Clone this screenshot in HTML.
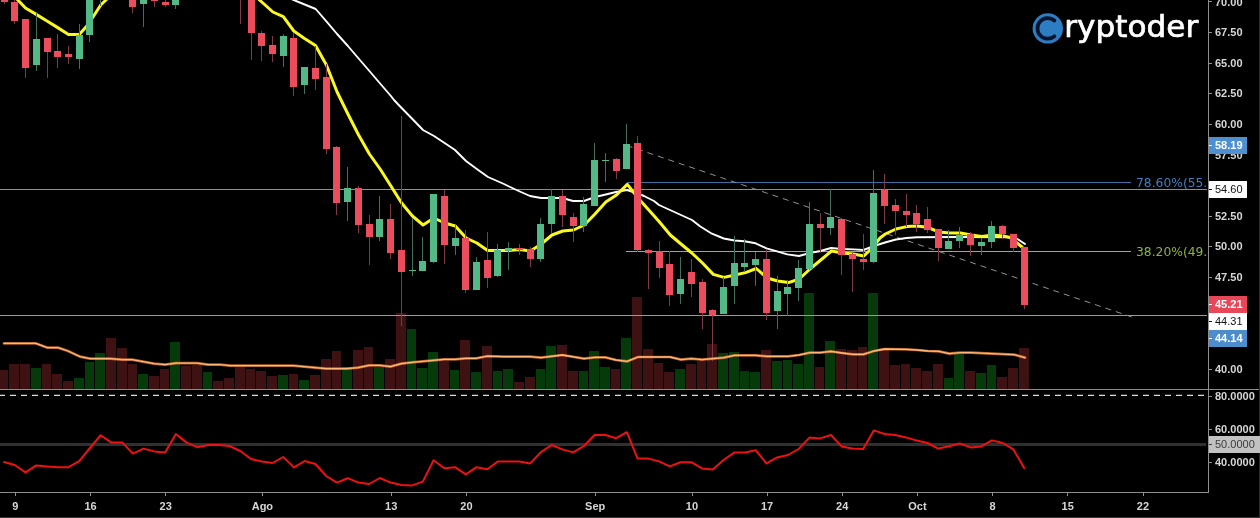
<!DOCTYPE html>
<html lang="es"><head><meta charset="utf-8"><title>Cryptoder chart</title>
<style>html,body{margin:0;padding:0;background:#000;overflow:hidden}svg{display:block}text{font-family:"Liberation Sans",Arial,sans-serif}.ax{font-size:11px;font-weight:bold;fill:#d6d6d6}.lg{font-family:"DejaVu Sans","Liberation Sans",sans-serif;font-size:31px;fill:#fff}.fib{font-family:"DejaVu Sans","Liberation Sans",sans-serif;font-size:12.3px}</style></head><body>
<svg width="1260" height="518" viewBox="0 0 1260 518">
<rect width="1260" height="518" fill="#000"/>
<defs><filter id="nf" x="0" y="0" width="1260" height="518" filterUnits="userSpaceOnUse" color-interpolation-filters="sRGB"><feOffset dx="0" dy="0"/></filter><clipPath id="plot"><rect x="0" y="0" width="1208" height="389"/></clipPath><clipPath id="lbl"><rect x="1130" y="170" width="78" height="100"/></clipPath></defs>
<g shape-rendering="crispEdges">
</g>
<g shape-rendering="crispEdges">
<rect x="0" y="370" width="8" height="19" fill="#3e1113"/>
<rect x="9" y="364" width="10" height="25" fill="#3e1113"/>
<rect x="20" y="364" width="10" height="25" fill="#3e1113"/>
<rect x="31" y="368" width="10" height="21" fill="#063a0b"/>
<rect x="42" y="364" width="9" height="25" fill="#3e1113"/>
<rect x="52" y="374" width="10" height="15" fill="#3e1113"/>
<rect x="63" y="381" width="10" height="8" fill="#3e1113"/>
<rect x="74" y="378" width="10" height="11" fill="#063a0b"/>
<rect x="85" y="362" width="9" height="27" fill="#063a0b"/>
<rect x="95" y="353" width="10" height="36" fill="#063a0b"/>
<rect x="106" y="338" width="10" height="51" fill="#3e1113"/>
<rect x="117" y="348" width="10" height="41" fill="#3e1113"/>
<rect x="128" y="364" width="9" height="25" fill="#3e1113"/>
<rect x="138" y="374" width="10" height="15" fill="#063a0b"/>
<rect x="149" y="376" width="10" height="13" fill="#3e1113"/>
<rect x="160" y="369" width="9" height="20" fill="#3e1113"/>
<rect x="170" y="342" width="10" height="47" fill="#063a0b"/>
<rect x="181" y="366" width="10" height="23" fill="#3e1113"/>
<rect x="192" y="365" width="10" height="24" fill="#3e1113"/>
<rect x="203" y="372" width="9" height="17" fill="#063a0b"/>
<rect x="213" y="381" width="10" height="8" fill="#3e1113"/>
<rect x="224" y="378" width="10" height="11" fill="#3e1113"/>
<rect x="235" y="367" width="10" height="22" fill="#3e1113"/>
<rect x="246" y="369" width="9" height="20" fill="#3e1113"/>
<rect x="256" y="371" width="10" height="18" fill="#3e1113"/>
<rect x="267" y="376" width="10" height="13" fill="#3e1113"/>
<rect x="278" y="375" width="10" height="14" fill="#063a0b"/>
<rect x="289" y="374" width="9" height="15" fill="#3e1113"/>
<rect x="299" y="380" width="10" height="9" fill="#063a0b"/>
<rect x="310" y="375" width="10" height="14" fill="#3e1113"/>
<rect x="321" y="359" width="10" height="30" fill="#3e1113"/>
<rect x="332" y="351" width="9" height="38" fill="#3e1113"/>
<rect x="342" y="367" width="10" height="22" fill="#063a0b"/>
<rect x="353" y="350" width="10" height="39" fill="#3e1113"/>
<rect x="364" y="347" width="9" height="42" fill="#3e1113"/>
<rect x="374" y="367" width="10" height="22" fill="#063a0b"/>
<rect x="385" y="359" width="10" height="30" fill="#3e1113"/>
<rect x="396" y="313" width="10" height="76" fill="#3e1113"/>
<rect x="407" y="329" width="9" height="60" fill="#063a0b"/>
<rect x="417" y="368" width="10" height="21" fill="#063a0b"/>
<rect x="428" y="352" width="10" height="37" fill="#063a0b"/>
<rect x="439" y="361" width="10" height="28" fill="#3e1113"/>
<rect x="450" y="370" width="9" height="19" fill="#063a0b"/>
<rect x="460" y="340" width="10" height="49" fill="#3e1113"/>
<rect x="471" y="372" width="10" height="17" fill="#063a0b"/>
<rect x="482" y="346" width="10" height="43" fill="#3e1113"/>
<rect x="493" y="371" width="9" height="18" fill="#063a0b"/>
<rect x="503" y="369" width="10" height="20" fill="#063a0b"/>
<rect x="514" y="382" width="10" height="7" fill="#3e1113"/>
<rect x="525" y="377" width="10" height="12" fill="#3e1113"/>
<rect x="536" y="369" width="9" height="20" fill="#063a0b"/>
<rect x="546" y="346" width="10" height="43" fill="#063a0b"/>
<rect x="557" y="345" width="10" height="44" fill="#3e1113"/>
<rect x="568" y="371" width="10" height="18" fill="#3e1113"/>
<rect x="579" y="371" width="9" height="18" fill="#063a0b"/>
<rect x="589" y="351" width="10" height="38" fill="#063a0b"/>
<rect x="600" y="367" width="10" height="22" fill="#063a0b"/>
<rect x="611" y="369" width="9" height="20" fill="#3e1113"/>
<rect x="621" y="338" width="10" height="51" fill="#063a0b"/>
<rect x="632" y="297" width="10" height="92" fill="#3e1113"/>
<rect x="643" y="349" width="10" height="40" fill="#3e1113"/>
<rect x="654" y="363" width="9" height="26" fill="#3e1113"/>
<rect x="664" y="372" width="10" height="17" fill="#3e1113"/>
<rect x="675" y="369" width="10" height="20" fill="#063a0b"/>
<rect x="686" y="364" width="10" height="25" fill="#3e1113"/>
<rect x="697" y="361" width="9" height="28" fill="#3e1113"/>
<rect x="707" y="344" width="10" height="45" fill="#3e1113"/>
<rect x="718" y="353" width="10" height="36" fill="#063a0b"/>
<rect x="729" y="352" width="10" height="37" fill="#063a0b"/>
<rect x="740" y="371" width="9" height="18" fill="#063a0b"/>
<rect x="750" y="372" width="10" height="17" fill="#063a0b"/>
<rect x="761" y="350" width="10" height="39" fill="#3e1113"/>
<rect x="772" y="361" width="10" height="28" fill="#063a0b"/>
<rect x="783" y="360" width="9" height="29" fill="#063a0b"/>
<rect x="793" y="364" width="10" height="25" fill="#063a0b"/>
<rect x="804" y="293" width="10" height="96" fill="#063a0b"/>
<rect x="815" y="367" width="9" height="22" fill="#3e1113"/>
<rect x="825" y="341" width="10" height="48" fill="#063a0b"/>
<rect x="836" y="349" width="10" height="40" fill="#3e1113"/>
<rect x="847" y="350" width="10" height="39" fill="#3e1113"/>
<rect x="858" y="347" width="9" height="42" fill="#3e1113"/>
<rect x="868" y="293" width="10" height="96" fill="#063a0b"/>
<rect x="879" y="348" width="10" height="41" fill="#3e1113"/>
<rect x="890" y="365" width="10" height="24" fill="#3e1113"/>
<rect x="901" y="364" width="9" height="25" fill="#3e1113"/>
<rect x="911" y="368" width="10" height="21" fill="#3e1113"/>
<rect x="922" y="371" width="10" height="18" fill="#3e1113"/>
<rect x="933" y="364" width="10" height="25" fill="#3e1113"/>
<rect x="944" y="378" width="9" height="11" fill="#063a0b"/>
<rect x="954" y="354" width="10" height="35" fill="#063a0b"/>
<rect x="965" y="371" width="10" height="18" fill="#3e1113"/>
<rect x="976" y="373" width="10" height="16" fill="#063a0b"/>
<rect x="987" y="365" width="9" height="24" fill="#063a0b"/>
<rect x="997" y="377" width="10" height="12" fill="#3e1113"/>
<rect x="1008" y="368" width="10" height="21" fill="#3e1113"/>
<rect x="1019" y="348" width="10" height="41" fill="#3e1113"/>
</g>
<g shape-rendering="crispEdges">
<rect x="0" y="189" width="1207" height="1" fill="#8e8e8e"/>
<rect x="0" y="315" width="1207" height="1" fill="#9a9a9a"/>
<rect x="627" y="182" width="504" height="1" fill="#3b6fa6"/>
<rect x="626" y="251" width="505" height="1" fill="#94b84a"/>
</g>
<line x1="627" y1="145.6" x2="1131.5" y2="316.9" stroke="#929292" stroke-width="1" stroke-dasharray="6 4.99" stroke-dashoffset="0.3"/>
<g fill="none" stroke-linejoin="round" stroke-linecap="round" clip-path="url(#plot)">
<polyline points="283.0,-4.5 293.8,0.0 315.7,9.0 326.4,21.4 337.1,34.0 347.9,46.0 358.6,58.5 369.4,71.0 380.1,83.5 390.9,96.0 394.0,100.0 401.6,108.0 412.4,119.0 423.0,130.0 434.0,136.0 444.6,143.0 455.0,150.0 466.0,161.0 476.8,169.0 488.0,177.0 498.3,181.5 504.0,184.0 509.0,186.5 519.8,191.5 530.0,196.0 541.0,198.0 552.0,198.0 562.4,198.0 573.0,201.0 584.0,201.0 595.0,197.0 605.8,194.5 616.0,192.0 627.0,190.0 638.0,193.5 644.0,196.0 654.0,201.0 659.0,205.0 670.0,210.0 681.0,215.0 692.0,220.0 700.0,226.2 711.9,233.7 723.8,238.5 734.5,240.5 744.4,241.3 755.6,243.3 766.5,248.4 776.2,251.2 787.3,254.4 799.0,256.0 810.0,253.0 820.4,251.0 831.0,248.0 842.0,249.0 853.0,249.4 863.4,250.0 874.0,246.0 885.0,242.5 896.0,239.5 906.4,238.0 917.0,237.2 960.0,237.0 1008.0,237.4 1016.0,238.0 1025.0,244.0" stroke="#ffffff" stroke-width="1.9"/>
<polyline points="3.0,-14.0 14.0,-4.0 25.5,8.0 36.2,14.4 47.0,21.0 57.7,27.6 68.5,34.4 79.2,34.4 86.0,27.0 93.0,17.0 100.7,5.0 106.0,0.0 111.5,-8.0" stroke="#fbf81e" stroke-width="3"/>
<polyline points="254.0,-6.0 259.5,0.0 272.9,12.0 283.3,16.6 293.8,31.0 304.5,38.5 315.5,45.5 326.4,65.0 337.1,92.0 347.9,114.0 358.6,135.0 369.4,154.0 380.1,169.0 390.9,186.0 401.6,203.0 412.4,216.0 423.1,225.0 433.8,218.0 444.6,223.0 455.3,226.0 466.1,238.0 476.8,243.0 487.6,250.4 498.3,250.4 509.0,250.6 519.8,249.4 530.5,251.0 541.3,244.0 552.0,235.0 562.8,231.0 573.5,230.0 584.3,225.0 595.0,214.0 605.8,202.0 616.5,195.0 627.3,184.4 638.0,198.0 648.8,210.0 659.5,222.0 670.3,235.0 681.0,244.0 691.8,253.0 702.5,263.0 713.3,274.4 724.0,277.4 734.8,275.0 745.5,272.6 756.3,268.5 767.0,278.0 777.8,281.0 788.5,282.6 799.3,279.0 810.0,269.0 820.8,260.0 831.5,251.0 842.3,253.0 853.0,254.0 863.8,256.0 869.0,251.0 874.5,245.0 880.0,238.0 885.3,234.0 896.0,229.0 906.8,226.6 917.5,226.0 928.3,227.6 939.0,232.0 949.8,233.0 960.5,233.0 971.3,235.0 982.0,236.4 992.8,235.0 1003.5,236.0 1010.0,237.5 1022.0,247.0" stroke="#fbf81e" stroke-width="3"/>
</g>
<g clip-path="url(#plot)" shape-rendering="crispEdges">
<rect x="4" y="-12.0" width="1" height="15.6" fill="#7c3a46"/>
<rect x="1" y="-10.0" width="7" height="11.6" fill="#eb4d5c"/>
<rect x="14" y="-5.0" width="1" height="28.6" fill="#7c3a46"/>
<rect x="11" y="2.0" width="7" height="18.6" fill="#eb4d5c"/>
<rect x="25" y="19.2" width="1" height="58.4" fill="#7c3a46"/>
<rect x="22" y="19.2" width="7" height="48.4" fill="#eb4d5c"/>
<rect x="36" y="12.4" width="1" height="58.2" fill="#41705a"/>
<rect x="33" y="39.2" width="7" height="25.4" fill="#53b987"/>
<rect x="47" y="38.0" width="1" height="39.6" fill="#7c3a46"/>
<rect x="44" y="38.0" width="7" height="13.6" fill="#eb4d5c"/>
<rect x="57" y="34.4" width="1" height="33.2" fill="#7c3a46"/>
<rect x="54" y="51.2" width="7" height="5.6" fill="#eb4d5c"/>
<rect x="68" y="46.0" width="1" height="18.4" fill="#7c3a46"/>
<rect x="65" y="54.0" width="7" height="2.8" fill="#eb4d5c"/>
<rect x="79" y="24.4" width="1" height="44.2" fill="#41705a"/>
<rect x="76" y="35.2" width="7" height="23.6" fill="#53b987"/>
<rect x="89" y="-10.0" width="1" height="52.4" fill="#41705a"/>
<rect x="86" y="-5.0" width="7" height="39.8" fill="#53b987"/>
<rect x="100" y="-35.0" width="1" height="40.6" fill="#41705a"/>
<rect x="97" y="-30.0" width="7" height="25.0" fill="#53b987"/>
<rect x="132" y="-15.0" width="1" height="27.8" fill="#7c3a46"/>
<rect x="129" y="-10.0" width="7" height="16.6" fill="#eb4d5c"/>
<rect x="143" y="-15.0" width="1" height="41.6" fill="#41705a"/>
<rect x="140" y="-10.0" width="7" height="13.6" fill="#53b987"/>
<rect x="154" y="-15.0" width="1" height="21.6" fill="#7c3a46"/>
<rect x="151" y="-10.0" width="7" height="10.8" fill="#eb4d5c"/>
<rect x="165" y="-2.0" width="1" height="8.6" fill="#7c3a46"/>
<rect x="162" y="2.0" width="7" height="2.6" fill="#eb4d5c"/>
<rect x="175" y="-15.0" width="1" height="24.4" fill="#41705a"/>
<rect x="172" y="-10.0" width="7" height="14.6" fill="#53b987"/>
<rect x="240" y="-45.0" width="1" height="68.6" fill="#7c3a46"/>
<rect x="237" y="-40.0" width="7" height="30.0" fill="#eb4d5c"/>
<rect x="251" y="-15.0" width="1" height="75.0" fill="#7c3a46"/>
<rect x="248" y="-10.0" width="7" height="43.4" fill="#eb4d5c"/>
<rect x="261" y="31.0" width="1" height="29.6" fill="#7c3a46"/>
<rect x="258" y="33.0" width="7" height="13.0" fill="#eb4d5c"/>
<rect x="272" y="36.0" width="1" height="25.6" fill="#7c3a46"/>
<rect x="269" y="45.0" width="7" height="9.0" fill="#eb4d5c"/>
<rect x="283" y="34.0" width="1" height="32.6" fill="#41705a"/>
<rect x="280" y="36.0" width="7" height="20.0" fill="#53b987"/>
<rect x="293" y="33.0" width="1" height="62.6" fill="#7c3a46"/>
<rect x="290" y="38.0" width="7" height="49.0" fill="#eb4d5c"/>
<rect x="304" y="67.0" width="1" height="26.6" fill="#41705a"/>
<rect x="301" y="67.0" width="7" height="18.0" fill="#53b987"/>
<rect x="315" y="46.0" width="1" height="43.6" fill="#7c3a46"/>
<rect x="312" y="68.0" width="7" height="11.0" fill="#eb4d5c"/>
<rect x="326" y="64.0" width="1" height="90.0" fill="#7c3a46"/>
<rect x="323" y="77.0" width="7" height="71.6" fill="#eb4d5c"/>
<rect x="336" y="146.0" width="1" height="69.0" fill="#7c3a46"/>
<rect x="333" y="147.0" width="7" height="55.6" fill="#eb4d5c"/>
<rect x="347" y="167.0" width="1" height="53.6" fill="#41705a"/>
<rect x="344" y="188.0" width="7" height="13.6" fill="#53b987"/>
<rect x="358" y="186.0" width="1" height="46.6" fill="#7c3a46"/>
<rect x="355" y="188.0" width="7" height="37.0" fill="#eb4d5c"/>
<rect x="369" y="215.0" width="1" height="49.6" fill="#7c3a46"/>
<rect x="366" y="224.0" width="7" height="12.6" fill="#eb4d5c"/>
<rect x="379" y="196.0" width="1" height="44.6" fill="#41705a"/>
<rect x="376" y="219.0" width="7" height="17.6" fill="#53b987"/>
<rect x="390" y="204.0" width="1" height="54.6" fill="#7c3a46"/>
<rect x="387" y="219.0" width="7" height="34.0" fill="#eb4d5c"/>
<rect x="401" y="116.0" width="1" height="210.0" fill="#7c3a46"/>
<rect x="398" y="250.0" width="7" height="21.6" fill="#eb4d5c"/>
<rect x="412" y="218.0" width="1" height="57.6" fill="#41705a"/>
<rect x="409" y="270.0" width="7" height="1.2" fill="#53b987"/>
<rect x="422" y="237.0" width="1" height="33.6" fill="#41705a"/>
<rect x="419" y="261.0" width="7" height="9.6" fill="#53b987"/>
<rect x="433" y="194.0" width="1" height="68.6" fill="#41705a"/>
<rect x="430" y="194.0" width="7" height="67.6" fill="#53b987"/>
<rect x="444" y="190.0" width="1" height="73.6" fill="#7c3a46"/>
<rect x="441" y="196.0" width="7" height="48.6" fill="#eb4d5c"/>
<rect x="455" y="225.0" width="1" height="29.6" fill="#41705a"/>
<rect x="452" y="238.0" width="7" height="7.6" fill="#53b987"/>
<rect x="465" y="230.0" width="1" height="62.6" fill="#7c3a46"/>
<rect x="462" y="238.0" width="7" height="51.6" fill="#eb4d5c"/>
<rect x="476" y="257.0" width="1" height="32.6" fill="#41705a"/>
<rect x="473" y="262.0" width="7" height="27.6" fill="#53b987"/>
<rect x="487" y="232.0" width="1" height="55.6" fill="#7c3a46"/>
<rect x="484" y="260.0" width="7" height="17.6" fill="#eb4d5c"/>
<rect x="497" y="244.0" width="1" height="32.6" fill="#41705a"/>
<rect x="494" y="250.0" width="7" height="25.6" fill="#53b987"/>
<rect x="508" y="242.0" width="1" height="27.6" fill="#41705a"/>
<rect x="505" y="248.0" width="7" height="3.0" fill="#53b987"/>
<rect x="519" y="244.0" width="1" height="10.6" fill="#7c3a46"/>
<rect x="516" y="248.0" width="7" height="2.0" fill="#eb4d5c"/>
<rect x="530" y="247.0" width="1" height="19.6" fill="#7c3a46"/>
<rect x="527" y="249.4" width="7" height="9.6" fill="#eb4d5c"/>
<rect x="540" y="218.0" width="1" height="43.6" fill="#41705a"/>
<rect x="537" y="224.0" width="7" height="35.0" fill="#53b987"/>
<rect x="551" y="189.0" width="1" height="43.6" fill="#41705a"/>
<rect x="548" y="196.0" width="7" height="28.0" fill="#53b987"/>
<rect x="562" y="190.0" width="1" height="36.6" fill="#7c3a46"/>
<rect x="559" y="196.0" width="7" height="18.6" fill="#eb4d5c"/>
<rect x="573" y="213.0" width="1" height="28.6" fill="#7c3a46"/>
<rect x="570" y="217.0" width="7" height="9.0" fill="#eb4d5c"/>
<rect x="583" y="197.0" width="1" height="34.6" fill="#41705a"/>
<rect x="580" y="204.0" width="7" height="22.0" fill="#53b987"/>
<rect x="594" y="143.0" width="1" height="62.6" fill="#41705a"/>
<rect x="591" y="160.0" width="7" height="45.6" fill="#53b987"/>
<rect x="605" y="153.0" width="1" height="28.6" fill="#41705a"/>
<rect x="602" y="160.0" width="7" height="1.2" fill="#53b987"/>
<rect x="616" y="158.0" width="1" height="20.6" fill="#7c3a46"/>
<rect x="613" y="159.0" width="7" height="12.0" fill="#eb4d5c"/>
<rect x="626" y="124.0" width="1" height="44.6" fill="#41705a"/>
<rect x="623" y="144.0" width="7" height="24.6" fill="#53b987"/>
<rect x="637" y="136.0" width="1" height="115.6" fill="#7c3a46"/>
<rect x="634" y="143.0" width="7" height="107.0" fill="#eb4d5c"/>
<rect x="648" y="249.0" width="1" height="39.6" fill="#7c3a46"/>
<rect x="645" y="250.0" width="7" height="3.0" fill="#eb4d5c"/>
<rect x="659" y="241.0" width="1" height="36.6" fill="#7c3a46"/>
<rect x="656" y="251.0" width="7" height="16.6" fill="#eb4d5c"/>
<rect x="669" y="251.0" width="1" height="54.6" fill="#7c3a46"/>
<rect x="666" y="264.0" width="7" height="31.0" fill="#eb4d5c"/>
<rect x="680" y="257.0" width="1" height="46.6" fill="#41705a"/>
<rect x="677" y="279.0" width="7" height="15.0" fill="#53b987"/>
<rect x="691" y="259.0" width="1" height="37.6" fill="#7c3a46"/>
<rect x="688" y="272.0" width="7" height="12.0" fill="#eb4d5c"/>
<rect x="702" y="279.0" width="1" height="49.6" fill="#7c3a46"/>
<rect x="699" y="282.0" width="7" height="30.6" fill="#eb4d5c"/>
<rect x="712" y="309.0" width="1" height="51.6" fill="#7c3a46"/>
<rect x="709" y="310.0" width="7" height="5.4" fill="#eb4d5c"/>
<rect x="723" y="277.0" width="1" height="36.6" fill="#41705a"/>
<rect x="720" y="287.0" width="7" height="26.6" fill="#53b987"/>
<rect x="734" y="236.0" width="1" height="67.6" fill="#41705a"/>
<rect x="731" y="263.0" width="7" height="22.6" fill="#53b987"/>
<rect x="744" y="239.3" width="1" height="32.3" fill="#41705a"/>
<rect x="741" y="263.0" width="7" height="3.6" fill="#53b987"/>
<rect x="755" y="252.0" width="1" height="33.7" fill="#41705a"/>
<rect x="752" y="259.0" width="7" height="5.7" fill="#53b987"/>
<rect x="766" y="249.6" width="1" height="70.0" fill="#7c3a46"/>
<rect x="763" y="259.0" width="7" height="53.6" fill="#eb4d5c"/>
<rect x="777" y="276.0" width="1" height="53.0" fill="#41705a"/>
<rect x="774" y="291.0" width="7" height="19.6" fill="#53b987"/>
<rect x="787" y="280.0" width="1" height="35.6" fill="#41705a"/>
<rect x="784" y="287.0" width="7" height="6.6" fill="#53b987"/>
<rect x="798" y="260.0" width="1" height="40.6" fill="#41705a"/>
<rect x="795" y="268.0" width="7" height="19.6" fill="#53b987"/>
<rect x="809" y="202.0" width="1" height="68.0" fill="#41705a"/>
<rect x="806" y="224.0" width="7" height="44.6" fill="#53b987"/>
<rect x="820" y="213.0" width="1" height="39.6" fill="#7c3a46"/>
<rect x="817" y="224.0" width="7" height="3.6" fill="#eb4d5c"/>
<rect x="830" y="189.0" width="1" height="45.6" fill="#41705a"/>
<rect x="827" y="217.0" width="7" height="10.6" fill="#53b987"/>
<rect x="841" y="218.0" width="1" height="56.6" fill="#7c3a46"/>
<rect x="838" y="219.0" width="7" height="35.6" fill="#eb4d5c"/>
<rect x="852" y="253.0" width="1" height="38.6" fill="#7c3a46"/>
<rect x="849" y="254.0" width="7" height="4.6" fill="#eb4d5c"/>
<rect x="863" y="234.0" width="1" height="35.6" fill="#7c3a46"/>
<rect x="860" y="259.0" width="7" height="3.0" fill="#eb4d5c"/>
<rect x="873" y="170.0" width="1" height="93.0" fill="#41705a"/>
<rect x="870" y="193.0" width="7" height="68.6" fill="#53b987"/>
<rect x="884" y="174.0" width="1" height="49.6" fill="#7c3a46"/>
<rect x="881" y="190.0" width="7" height="16.0" fill="#eb4d5c"/>
<rect x="895" y="199.0" width="1" height="35.6" fill="#7c3a46"/>
<rect x="892" y="205.0" width="7" height="6.0" fill="#eb4d5c"/>
<rect x="906" y="194.0" width="1" height="32.6" fill="#7c3a46"/>
<rect x="903" y="211.0" width="7" height="4.0" fill="#eb4d5c"/>
<rect x="916" y="205.0" width="1" height="26.6" fill="#7c3a46"/>
<rect x="913" y="213.0" width="7" height="11.0" fill="#eb4d5c"/>
<rect x="927" y="207.0" width="1" height="25.6" fill="#7c3a46"/>
<rect x="924" y="219.0" width="7" height="11.0" fill="#eb4d5c"/>
<rect x="938" y="229.0" width="1" height="31.6" fill="#7c3a46"/>
<rect x="935" y="229.0" width="7" height="18.6" fill="#eb4d5c"/>
<rect x="948" y="230.0" width="1" height="18.6" fill="#41705a"/>
<rect x="945" y="241.0" width="7" height="7.6" fill="#53b987"/>
<rect x="959" y="227.0" width="1" height="20.6" fill="#41705a"/>
<rect x="956" y="235.0" width="7" height="5.6" fill="#53b987"/>
<rect x="970" y="232.0" width="1" height="23.6" fill="#7c3a46"/>
<rect x="967" y="234.0" width="7" height="10.6" fill="#eb4d5c"/>
<rect x="981" y="238.0" width="1" height="16.6" fill="#41705a"/>
<rect x="978" y="242.0" width="7" height="3.6" fill="#53b987"/>
<rect x="991" y="221.0" width="1" height="26.6" fill="#41705a"/>
<rect x="988" y="226.0" width="7" height="15.6" fill="#53b987"/>
<rect x="1002" y="225.0" width="1" height="13.6" fill="#7c3a46"/>
<rect x="999" y="226.0" width="7" height="8.0" fill="#eb4d5c"/>
<rect x="1013" y="234.0" width="1" height="17.6" fill="#7c3a46"/>
<rect x="1010" y="234.0" width="7" height="13.6" fill="#eb4d5c"/>
<rect x="1024" y="247.0" width="1" height="61.6" fill="#7c3a46"/>
<rect x="1021" y="247.0" width="7" height="57.6" fill="#eb4d5c"/>
</g>
<g fill="none" stroke-linejoin="round" stroke-linecap="round" clip-path="url(#plot)">
<polyline points="4.0,343.4 36.0,343.4 47.0,347.6 58.0,347.6 68.0,351.0 80.0,356.6 90.0,358.6 110.0,358.6 122.0,359.6 132.0,359.6 154.0,363.6 165.0,364.6 176.0,363.2 197.0,363.2 208.0,364.6 220.0,364.6 230.0,365.6 252.0,365.6 293.0,365.6 326.0,368.6 347.0,368.6 358.0,367.6 369.0,365.4 380.0,365.4 390.4,366.6 401.4,363.6 412.0,362.4 444.0,359.4 455.0,359.4 465.5,358.4 476.0,358.4 487.0,356.2 504.0,356.6 530.0,356.6 541.0,357.6 562.4,355.0 584.0,358.6 595.0,357.4 605.4,357.4 616.0,360.0 627.0,361.4 638.0,357.0 670.0,357.0 681.0,359.6 691.4,358.6 702.0,359.6 713.0,358.6 724.0,357.6 734.4,355.4 756.0,355.4 767.0,356.4 788.0,356.4 799.0,355.0 810.0,352.6 820.4,352.6 831.0,351.4 842.0,353.0 853.0,354.4 863.4,354.4 874.0,351.0 885.0,349.0 906.4,349.4 917.0,350.0 928.0,351.0 939.0,351.4 949.4,353.6 960.0,352.6 971.0,352.6 1008.0,354.4 1014.0,354.6 1025.0,357.6" stroke="#ea7d30" stroke-width="2.7" opacity="0.75"/>
<polyline points="4.0,343.4 36.0,343.4 47.0,347.6 58.0,347.6 68.0,351.0 80.0,356.6 90.0,358.6 110.0,358.6 122.0,359.6 132.0,359.6 154.0,363.6 165.0,364.6 176.0,363.2 197.0,363.2 208.0,364.6 220.0,364.6 230.0,365.6 252.0,365.6 293.0,365.6 326.0,368.6 347.0,368.6 358.0,367.6 369.0,365.4 380.0,365.4 390.4,366.6 401.4,363.6 412.0,362.4 444.0,359.4 455.0,359.4 465.5,358.4 476.0,358.4 487.0,356.2 504.0,356.6 530.0,356.6 541.0,357.6 562.4,355.0 584.0,358.6 595.0,357.4 605.4,357.4 616.0,360.0 627.0,361.4 638.0,357.0 670.0,357.0 681.0,359.6 691.4,358.6 702.0,359.6 713.0,358.6 724.0,357.6 734.4,355.4 756.0,355.4 767.0,356.4 788.0,356.4 799.0,355.0 810.0,352.6 820.4,352.6 831.0,351.4 842.0,353.0 853.0,354.4 863.4,354.4 874.0,351.0 885.0,349.0 906.4,349.4 917.0,350.0 928.0,351.0 939.0,351.4 949.4,353.6 960.0,352.6 971.0,352.6 1008.0,354.4 1014.0,354.6 1025.0,357.6" stroke="#ffb678" stroke-width="1.3"/>
</g>
<g filter="url(#nf)">
<g clip-path="url(#lbl)">
<text class="fib" x="1136" y="186.9" fill="#3f7fc0">78.60%(55.0)</text>
<text class="fib" x="1136" y="256" fill="#8db33a">38.20%(49.5)</text>
</g>
<g shape-rendering="crispEdges">
<rect x="0" y="389" width="1260" height="1" fill="#8a8a8a"/>
<rect x="0" y="443" width="1206" height="3" fill="#303030"/>
</g>
<line x1="-1" y1="395.4" x2="1206" y2="395.4" stroke="#dcdcdc" stroke-width="1.1" stroke-dasharray="6 5"/>
<polyline points="4.0,462.0 14.8,465.0 25.5,472.4 36.3,465.4 47.0,466.4 57.7,467.2 68.5,467.2 79.2,461.2 90.0,448.0 100.7,435.2 111.4,442.6 122.2,442.4 132.9,453.6 143.6,448.6 154.4,451.4 165.1,452.6 175.9,434.0 186.6,442.6 197.3,447.2 208.1,445.0 218.8,445.0 229.5,446.0 240.3,451.0 251.0,459.0 261.8,461.4 272.5,463.0 283.2,457.0 294.0,467.4 304.7,461.0 315.5,464.0 326.2,476.0 336.9,482.6 347.7,478.2 358.4,482.6 369.1,484.0 379.9,478.0 390.6,482.6 401.4,485.0 412.1,485.4 422.8,481.6 433.6,460.2 444.3,468.2 455.0,467.2 465.8,474.4 476.5,467.2 487.3,469.2 498.0,461.4 508.7,461.4 519.5,461.4 530.2,463.4 540.9,452.2 551.7,445.0 562.4,449.4 573.2,452.4 583.9,446.0 594.6,435.0 605.4,435.0 616.1,438.2 626.9,432.2 637.6,458.6 648.3,458.6 659.1,461.4 669.8,466.4 680.5,462.2 691.3,462.2 702.0,468.4 712.8,469.4 723.5,460.0 734.2,452.6 745.0,452.6 755.7,450.2 766.4,463.4 777.2,457.4 787.9,455.0 798.7,449.0 809.4,437.6 820.1,438.4 830.9,435.0 841.6,446.4 852.4,448.6 863.1,449.0 873.8,430.4 884.6,434.0 895.3,435.0 906.0,437.4 916.8,440.6 927.5,443.0 938.3,448.6 949.0,446.2 959.7,443.4 970.5,447.4 981.2,446.4 991.9,440.4 1002.7,443.0 1013.4,449.4 1024.2,468.0" fill="none" stroke="#ee1111" stroke-width="2" stroke-linejoin="round" stroke-linecap="round"/>
<g shape-rendering="crispEdges" fill="#8f8f8f">
<rect x="1208" y="0" width="1" height="493"/>
<rect x="0" y="492" width="1209" height="1"/>
<rect x="0" y="517" width="1260" height="1" fill="#3a3a3a"/>
<rect x="1259" y="0" width="1" height="518" fill="#2c2c2c"/>
<rect x="15" y="493" width="1" height="3"/>
<rect x="90" y="493" width="1" height="3"/>
<rect x="165" y="493" width="1" height="3"/>
<rect x="262" y="493" width="1" height="3"/>
<rect x="391" y="493" width="1" height="3"/>
<rect x="466" y="493" width="1" height="3"/>
<rect x="595" y="493" width="1" height="3"/>
<rect x="692" y="493" width="1" height="3"/>
<rect x="767" y="493" width="1" height="3"/>
<rect x="842" y="493" width="1" height="3"/>
<rect x="917" y="493" width="1" height="3"/>
<rect x="992" y="493" width="1" height="3"/>
<rect x="1067" y="493" width="1" height="3"/>
<rect x="1143" y="493" width="1" height="3"/>
<rect x="1209" y="1" width="3" height="1"/>
<rect x="1209" y="32" width="3" height="1"/>
<rect x="1209" y="63" width="3" height="1"/>
<rect x="1209" y="93" width="3" height="1"/>
<rect x="1209" y="124" width="3" height="1"/>
<rect x="1209" y="185" width="3" height="1"/>
<rect x="1209" y="216" width="3" height="1"/>
<rect x="1209" y="246" width="3" height="1"/>
<rect x="1209" y="277" width="3" height="1"/>
<rect x="1209" y="307" width="3" height="1"/>
<rect x="1209" y="338" width="3" height="1"/>
<rect x="1209" y="369" width="3" height="1"/>
<rect x="1209" y="396" width="3" height="1"/>
<rect x="1209" y="429" width="3" height="1"/>
<rect x="1209" y="462" width="3" height="1"/>
</g>
<text class="ax" x="15.4" y="510.1" text-anchor="middle">9</text>
<text class="ax" x="90.6" y="510.1" text-anchor="middle">16</text>
<text class="ax" x="165.7" y="510.1" text-anchor="middle">23</text>
<text class="ax" x="262.4" y="510.1" text-anchor="middle">Ago</text>
<text class="ax" x="391.2" y="510.1" text-anchor="middle">13</text>
<text class="ax" x="466.4" y="510.1" text-anchor="middle">20</text>
<text class="ax" x="595.2" y="510.1" text-anchor="middle">Sep</text>
<text class="ax" x="691.9" y="510.1" text-anchor="middle">10</text>
<text class="ax" x="767.0" y="510.1" text-anchor="middle">17</text>
<text class="ax" x="842.2" y="510.1" text-anchor="middle">24</text>
<text class="ax" x="917.4" y="510.1" text-anchor="middle">Oct</text>
<text class="ax" x="992.5" y="510.1" text-anchor="middle">8</text>
<text class="ax" x="1067.7" y="510.1" text-anchor="middle">15</text>
<text class="ax" x="1142.9" y="510.1" text-anchor="middle">22</text>
<text class="ax" x="1215" y="5.5">70.00</text>
<text class="ax" x="1215" y="36.0">67.50</text>
<text class="ax" x="1215" y="67.0">65.00</text>
<text class="ax" x="1215" y="97.0">62.50</text>
<text class="ax" x="1215" y="128.0">60.00</text>
<text class="ax" x="1215" y="159.0">57.50</text>
<text class="ax" x="1215" y="189.0">55.00</text>
<text class="ax" x="1215" y="220.0">52.50</text>
<text class="ax" x="1215" y="250.4">50.00</text>
<text class="ax" x="1215" y="281.0">47.50</text>
<text class="ax" x="1215" y="311.5">45.00</text>
<text class="ax" x="1215" y="342.0">42.50</text>
<text class="ax" x="1215" y="373.0">40.00</text>
<text class="ax" x="1215" y="400.0">80.0000</text>
<text class="ax" x="1215" y="433.0">60.0000</text>
<text class="ax" x="1215" y="466.0">40.0000</text>
<rect x="1209" y="137.0" width="38" height="17.0" fill="#4d8fd1" shape-rendering="crispEdges"/>
<rect x="1209" y="145" width="3" height="1" fill="#fff" shape-rendering="crispEdges"/>
<text x="1215" y="148.7" font-size="11" font-weight="bold" fill="#fff">58.19</text>
<rect x="1209" y="181.0" width="38" height="17.0" fill="#ffffff" shape-rendering="crispEdges"/>
<rect x="1209" y="189" width="3" height="1" fill="#111" shape-rendering="crispEdges"/>
<text x="1215" y="192.7" font-size="11" font-weight="normal" fill="#111">54.60</text>
<rect x="1209" y="296.0" width="38" height="17.0" fill="#e8475a" shape-rendering="crispEdges"/>
<rect x="1209" y="304" width="3" height="1" fill="#fff" shape-rendering="crispEdges"/>
<text x="1215" y="307.7" font-size="11" font-weight="bold" fill="#fff">45.21</text>
<rect x="1209" y="313.0" width="38" height="17.0" fill="#ffffff" shape-rendering="crispEdges"/>
<rect x="1209" y="321" width="3" height="1" fill="#111" shape-rendering="crispEdges"/>
<text x="1215" y="324.7" font-size="11" font-weight="normal" fill="#111">44.31</text>
<rect x="1209" y="330.0" width="38" height="17.0" fill="#4d8dcc" shape-rendering="crispEdges"/>
<rect x="1209" y="338" width="3" height="1" fill="#fff" shape-rendering="crispEdges"/>
<text x="1215" y="341.7" font-size="11" font-weight="bold" fill="#fff">44.14</text>
<rect x="1209" y="436.0" width="51" height="17.0" fill="#c2c2c2" shape-rendering="crispEdges"/>
<rect x="1209" y="444" width="3" height="1" fill="#3a3a3a" shape-rendering="crispEdges"/>
<text x="1215" y="447.7" font-size="11" font-weight="normal" fill="#3a3a3a">50.0000</text>
<circle cx="1047.8" cy="28.4" r="15.2" fill="#2d7dc3"/>
<path d="M1054.42 20.51 A10.3 10.3 0 1 0 1054.42 36.29" fill="none" stroke="#08142c" stroke-width="3.7" stroke-linecap="round"/>
<text class="lg" x="1064.2" y="36.8" textLength="134" lengthAdjust="spacingAndGlyphs" stroke="#fff" stroke-width="0.7" stroke-linejoin="round">ryptoder</text>
</g>
</svg></body></html>
